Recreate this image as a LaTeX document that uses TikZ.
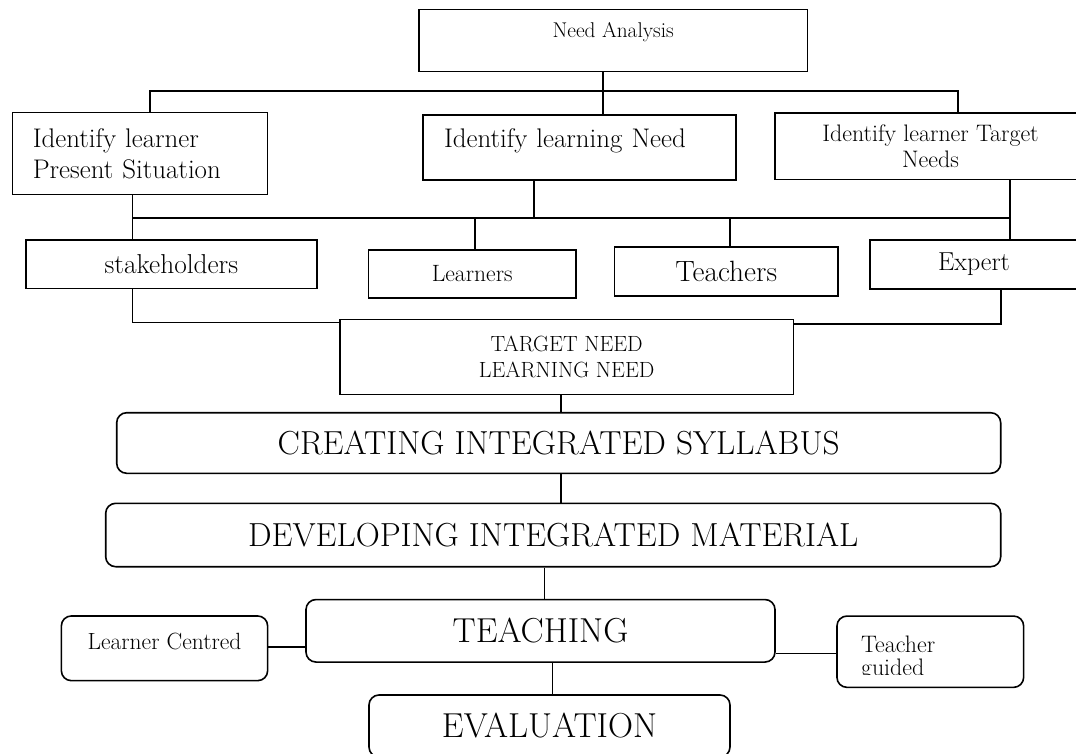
\documentclass[tikz,border=0pt]{standalone}
\usepackage{tikz}
\newcommand\px{0.75pt}
\newcommand\TS[2]{\fontsize{#1}{#2}\selectfont}
\tikzstyle{box}=[rectangle,draw,line width=1.2pt,inner sep=0pt,text centered]
\tikzstyle{rbox}=[rectangle,draw,line width=1.2pt,rounded corners=7.5pt,inner sep=0pt,text centered]
\tikzstyle{wire}=[line width=1.2pt]
\begin{document}
\begin{tikzpicture}[x=\px,y=-\px]
      \useasboundingbox (0,0) rectangle (1076,754);
      % analysis part
      \node[box] (need) at (613.2,40.3) [minimum width=388.5*\px,minimum height=62*\px,text depth=15.4pt,font=\TS{16pt}{18pt}] {Need Analysis};
      \node[box] (situ) at (140.1,153.3) [minimum width=255*\px,minimum height=82*\px,text width=161pt,align=left,font=\TS{20.2pt}{23.3pt}] {Identify learner\\Present Situation};
      \node[box] (lneed) at (579.4,147.5) [minimum width=312.8*\px,minimum height=65*\px,text width=203pt,align=left,text depth=14.8pt,font=\TS{20.2pt}{23pt}] {Identify learning Need};
      \node[box] (tneed) at (930.5,146.2) [minimum width=311*\px,minimum height=66.5*\px,align=center,font=\TS{17.9pt}{20pt}] {Identify learner Target\\Needs};
      \node[box] (stake) at (171.4,264.2) [minimum width=290.8*\px,minimum height=48.3*\px,font=\TS{20.5pt}{24pt}] {stakeholders};
      \node[box] (learn) at (472.2,274) [minimum width=207.5*\px,minimum height=48*\px,font=\TS{17.7pt}{21pt}] {Learners};
      \node[box] (teach) at (726.2,271.6) [minimum width=223.2*\px,minimum height=48.7*\px,font=\TS{22pt}{26pt}] {Teachers};
      \node[box] (expert) at (974,264.5) [minimum width=208*\px,minimum height=49*\px,font=\TS{19.5pt}{23pt}] {Expert};
      \node[box] (target) at (566.7,356.8) [minimum width=453.3*\px,minimum height=75*\px,align=center,font=\TS{16.5pt}{20pt}] {TARGET NEED\\LEARNING NEED};
      % syllabus part
      \node[rbox] (create) at (558.7,443) [minimum width=884*\px,minimum height=60.6*\px,font=\TS{25pt}{29pt}] {CREATING INTEGRATED SYLLABUS};
      \node[rbox] (develop) at (553.2,535) [minimum width=895*\px,minimum height=63.4*\px,font=\TS{25pt}{29pt}] {DEVELOPING INTEGRATED MATERIAL};
      \node[rbox] (teaching) at (540.5,630.8) [minimum width=469*\px,minimum height=62.5*\px,font=\TS{26pt}{30pt}] {TEACHING};
      \node[rbox] (lcent) at (164.5,648.3) [minimum width=206.3*\px,minimum height=64.7*\px,text depth=10pt,font=\TS{17.6pt}{21pt}] {Learner Centred};
      \node[rbox] (tguided) at (930.3,651.7) [minimum width=186.7*\px,minimum height=71.3*\px] {};
      \node[rbox] (eval) at (549.5,726) [minimum width=361*\px,minimum height=62*\px,font=\TS{26pt}{30pt}] {EVALUATION};
      \begin{scope}
        \clip (tguided.north west) rectangle (1024,674.5);
        \node[anchor=north west,inner sep=0pt,align=left,font=\TS{17.9pt}{17.3pt}] (tgtext) at (860.8,635.4) {Teacher\\guided};
      \end{scope}
      % bus lines
      \coordinate (c1) at (150,91);
      \coordinate (c2) at (958,91);
      \coordinate (d1) at (132.6,218);
      \coordinate (d2) at (1010,218);
      \coordinate (d3) at (533.7,218);
      \coordinate (d4) at (475,218);
      \coordinate (d5) at (730,218);
      \coordinate (e1) at (132.6,322.3);
      \coordinate (e2) at (1000.7,324);
      \coordinate (f1) at (560.7,0);
      \coordinate (f2) at (544.5,0);
      \coordinate (f3) at (552.3,0);
      \coordinate (g1) at (0,646.7);
      \coordinate (g2) at (0,653.5);
      \draw[wire] (c1 |- situ.north) -- (c1) -- (c2) -- (c2 |- tneed.north);
      \draw[wire] ([xshift=-7.6pt]need.south) -- ([xshift=-7.6pt]need.south |- lneed.north);
      \draw[wire] (d1 |- situ.south) -- (d1 |- stake.north);
      \draw[wire] (d1) -- (d2);
      \draw[wire] (d2 |- tneed.south) -- (d2 |- expert.north);
      \draw[wire] (d3 |- lneed.south) -- (d3);
      \draw[wire] (d4) -- (d4 |- learn.north);
      \draw[wire] (d5) -- (d5 |- teach.north);
      \draw[wire] (e1 |- stake.south) -- (e1) -- (e1 -| target.west);
      \draw[wire] (e2 |- expert.south) -- (e2) -- (e2 -| target.east);
      \draw[wire] (f1 |- target.south) -- (f1 |- create.north);
      \draw[wire] (f1 |- create.south) -- (f1 |- develop.north);
      \draw[wire] (f2 |- develop.south) -- (f2 |- teaching.north);
      \draw[wire] (f3 |- teaching.south) -- (f3 |- eval.north);
      \draw[wire] (g1 -| lcent.east) -- (g1 -| teaching.west);
      \draw[wire] (g2 -| teaching.east) -- (g2 -| tguided.west);
\end{tikzpicture}
\end{document}
